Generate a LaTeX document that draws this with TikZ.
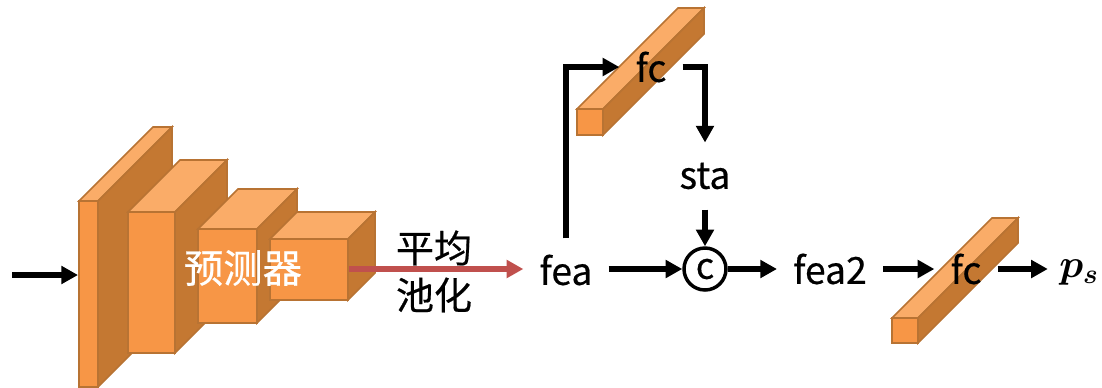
\documentclass[tikz,border=0pt]{standalone}
\usepackage{fontspec}
\usepackage{amsmath}
\setmainfont[FakeBold=0.5]{Noto Sans CJK SC}
\usetikzlibrary{arrows.meta}
\definecolor{frontcol}{HTML}{F79646}
\definecolor{topcol}{HTML}{FAAC68}
\definecolor{sidecol}{HTML}{C47832}
\definecolor{edgecol}{HTML}{B87333}
\definecolor{poolcol}{HTML}{C0504D}
\tikzset{
    flow/.style={line width=4pt,-{Triangle[length=12.5pt,width=13pt]}},
    poolflow/.style={flow,line width=4.4pt,color=poolcol},
    label/.style={font=\fontsize{28}{32}\selectfont,inner sep=12pt},
    cnlabel/.style={font=\fontsize{28.5}{34}\selectfont,inner sep=0pt},
    conc/.style={draw,circle,line width=2.6pt,minimum size=31.5pt,inner sep=0pt,font=\fontsize{27}{30}\selectfont},
    face/.style={draw=edgecol,line width=1.2pt,line join=miter}
}
\newcommand{\cuboid}[5]{
    \draw[face,fill=topcol] (#1,#2) -- ++(#5,-#5) -- ++(#3-#1,0) -- (#3,#2) -- cycle;
    \draw[face,fill=sidecol] (#3,#2) -- ++(#5,-#5) -- ++(0,#4-#2) -- (#3,#4) -- cycle;
    \draw[face,fill=frontcol] (#1,#2) rectangle (#3,#4);
}
\begin{document}
\begin{tikzpicture}[x=0.75pt,y=-0.75pt]
    \useasboundingbox (0,0) rectangle (1102,387);
    \cuboid{79}{201}{98}{387}{74}
    \cuboid{128}{212}{175}{353}{52}
    \cuboid{198}{229}{257}{323}{40}
    \cuboid{270}{239}{348}{300}{27}
    \cuboid{577}{109}{603}{135}{101}
    \cuboid{892}{318}{918}{343}{100}

    \node[cnlabel,text=white,font=\fontsize{29.5}{34}\selectfont] (pred) at (243,268) {预测器};
    \node[cnlabel] (poolA) at (434,248) {平均};
    \node[cnlabel] (poolB) at (434,295) {池化};
    \node[label] (fcA) at (651,67) {fc};
    \node[label] (fcB) at (966,269) {fc};
    \node[label] (fea) at (566,270) {fea};
    \node[label,inner ysep=15pt] (sta) at (705,176) {sta};
    \node[conc] (merge) at (705,269) {c};
    \node[label] (feaB) at (830,269) {fea2};
    \node[label,inner sep=7pt,scale=1.2,font=\fontsize{24}{28}\selectfont] (ps) at (1079,273) {$\boldsymbol{p_s}$};
    \coordinate (inputL) at (12,275);
    \coordinate (inputR) at (78,275);
    \coordinate (poolL) at (349,269);

    \draw[flow] (inputL) -- (inputR);
    \draw[poolflow] (poolL) -- (fea.west |- poolL);
    \draw[flow] (fea.north) |- (fcA.west);
    \draw[flow] (fcA.east) -| (sta.north);
    \draw[flow] (sta.south) -- (merge.north);
    \draw[flow] (fea.east |- merge) -- (merge.west);
    \draw[flow] (merge.east) -- (feaB.west |- merge);
    \draw[flow] (feaB.east |- fcB) -- (fcB.west);
    \draw[flow] (fcB.east) -- (ps.west |- fcB);
\end{tikzpicture}
\end{document}
